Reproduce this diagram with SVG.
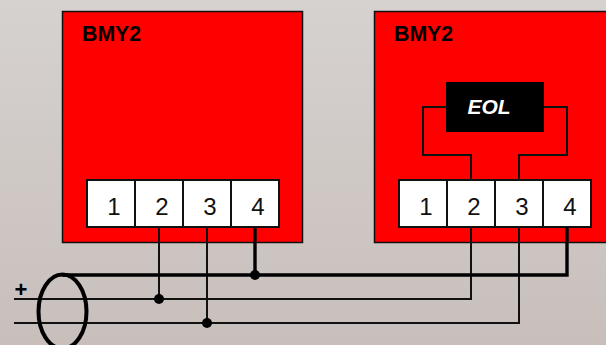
<svg xmlns="http://www.w3.org/2000/svg" width="606" height="345" viewBox="0 0 606 345">
<style>
.box{fill:#f00;stroke:#111;stroke-width:1.5}
.cell{fill:#fff;stroke:#111;stroke-width:2}
.num{font:24px "Liberation Sans",Arial,sans-serif;fill:#111;text-anchor:middle}
.title{font:bold 21.3px "Liberation Sans",Arial,sans-serif;fill:#000}
.w{fill:none;stroke:#111;stroke-width:2}
.t{fill:none;stroke:#000;stroke-width:3.4}
.d{fill:#000}
</style>
<defs>
<linearGradient id="bg" x1="0" y1="0" x2="0" y2="1"><stop offset="0" stop-color="#d6d2d0"/><stop offset="1" stop-color="#c8bfbb"/></linearGradient>
<g id="strip">
<rect class="cell" x="0" y="0" width="48" height="47"/>
<rect class="cell" x="48" y="0" width="48" height="47"/>
<rect class="cell" x="96" y="0" width="48" height="47"/>
<rect class="cell" x="144" y="0" width="48" height="47"/>
<text class="num" x="27" y="35">1</text>
<text class="num" x="75" y="35">2</text>
<text class="num" x="123" y="35">3</text>
<text class="num" x="171" y="35">4</text>
</g>
</defs>
<rect width="606" height="345" fill="url(#bg)"/>
<g id="node-left">
<rect class="box" x="62.500" y="11.500" width="240" height="231"/>
<text class="title" x="82" y="41">BMY2</text>
<use href="#strip" x="87" y="180"/>
</g>
<g id="node-right">
<rect class="box" x="374.500" y="11.500" width="240" height="231"/>
<text class="title" x="394" y="41">BMY2</text>
<use href="#strip" x="399" y="180"/>
</g>
<g id="node-eol">
<rect x="446" y="82" width="98" height="50" fill="#000"/>
<text x="489" y="114" font-family="Liberation Sans, Arial, sans-serif" font-size="21" font-weight="bold" font-style="italic" fill="#fff" text-anchor="middle">EOL</text>
</g>
<g id="connectors">
<path class="w" d="M446 107H423V155H471V180M544 107H567V155H519V180"/>
<path class="w" d="M159 227V299M207 227V323M471 227V299H14M519 227V323H14"/>
<path class="t" d="M62 275H567V227M255 227V275"/>
<ellipse cx="62.500" cy="311.500" rx="24" ry="37" fill="none" stroke="#000" stroke-width="4"/>
<circle class="d" cx="159" cy="299" r="5"/>
<circle class="d" cx="207" cy="323" r="5"/>
<circle class="d" cx="255" cy="275" r="5"/>
</g>
<text x="21" y="297" font-family="Liberation Sans, Arial, sans-serif" font-size="22" font-weight="bold" fill="#000" text-anchor="middle">+</text>
</svg>
